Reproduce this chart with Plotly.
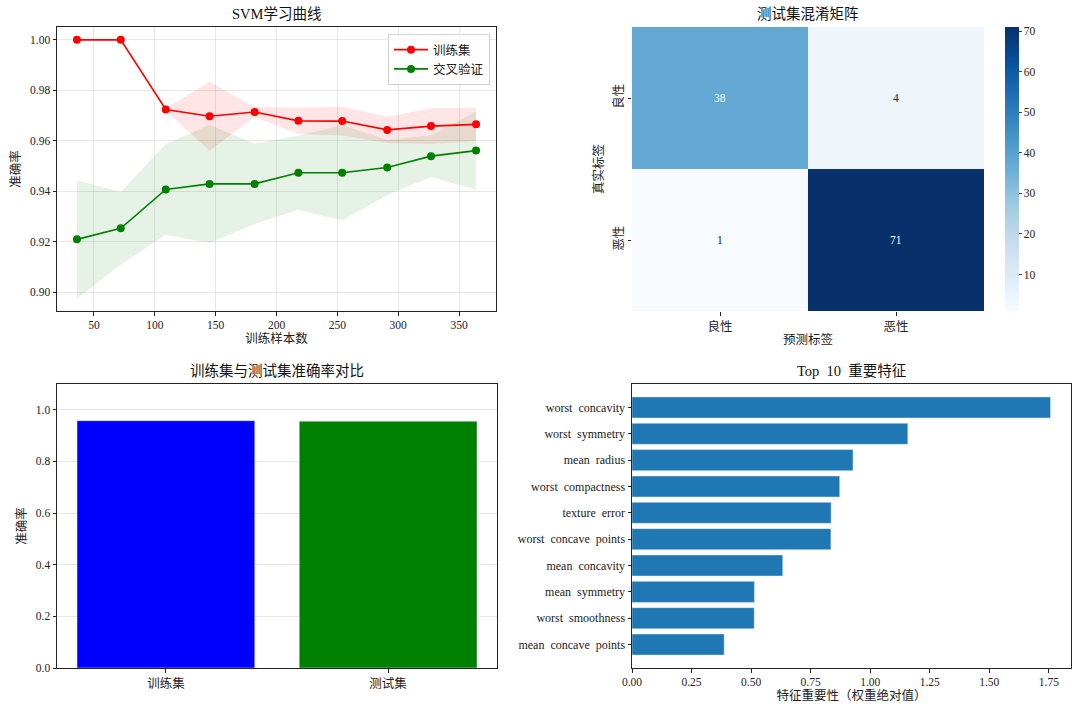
"""SVM 乳腺癌分类结果 — 学习曲线 / 混淆矩阵 / 准确率对比 / 特征重要性"""

import plotly.graph_objects as go

# 学习曲线数据
train_sizes = [36, 72, 109, 145, 182, 218, 254, 291, 327, 364]
train_mean = [1.000, 1.000, 0.9724, 0.9697, 0.9714, 0.9679, 0.9678, 0.9643, 0.9658, 0.9665]
train_std = [0.0, 0.0, 0.0005, 0.0137, 0.0020, 0.0052, 0.0057, 0.0052, 0.0071, 0.0066]
cv_mean = [0.9209, 0.9253, 0.9407, 0.9429, 0.9429, 0.9473, 0.9473, 0.9494, 0.9539, 0.9561]
cv_std = [0.0234, 0.0144, 0.0180, 0.0234, 0.0159, 0.0147, 0.0189, 0.0109, 0.0083, 0.0155]

# 混淆矩阵
cm_labels = ['良性', '恶性']
cm_values = [[38, 4], [1, 71]]

# 准确率对比
acc_names = ['训练集', '测试集']
acc_values = [0.958, 0.956]

# 特征重要性 (从大到小)
feat_names = ['worst concavity', 'worst symmetry', 'mean radius', 'worst compactness',
              'texture error', 'worst concave points', 'mean concavity', 'mean symmetry',
              'worst smoothness', 'mean concave points']
feat_values = [1.757, 1.158, 0.928, 0.872, 0.836, 0.835, 0.633, 0.514, 0.513, 0.387]

W, H = 1080, 715
FONT = 'Liberation Serif, Noto Sans CJK SC, serif'
BLUES = [[0.0, 'rgb(247,251,255)'], [0.125, 'rgb(222,235,247)'], [0.25, 'rgb(198,219,239)'],
         [0.375, 'rgb(158,202,225)'], [0.5, 'rgb(107,174,214)'], [0.625, 'rgb(66,146,198)'],
         [0.75, 'rgb(33,113,181)'], [0.875, 'rgb(8,81,156)'], [1.0, 'rgb(8,48,107)']]
GRID = 'rgba(176,176,176,0.3)'


def px_x(a, b):
    return [a / W, b / W]


def px_y(top, bottom):
    return [1 - bottom / H, 1 - top / H]


D_TL = (px_x(57, 496), px_y(27, 311))
D_TR = (px_x(632, 984), px_y(27, 311))
D_BL = (px_x(57, 497), px_y(384, 668))
D_BR = (px_x(632, 1071), px_y(384, 668))

fig = go.Figure()

# ---- 学习曲线 ----
sp = '\u00a0'
tr_up = [m + s for m, s in zip(train_mean, train_std)]
tr_lo = [m - s for m, s in zip(train_mean, train_std)]
cv_up = [m + s for m, s in zip(cv_mean, cv_std)]
cv_lo = [m - s for m, s in zip(cv_mean, cv_std)]

fig.add_trace(go.Scatter(x=train_sizes, y=tr_up, mode='lines', line=dict(width=0),
                         showlegend=False, hoverinfo='skip', xaxis='x', yaxis='y'))
fig.add_trace(go.Scatter(x=train_sizes, y=tr_lo, mode='lines', line=dict(width=0),
                         fill='tonexty', fillcolor='rgba(255,0,0,0.1)',
                         showlegend=False, hoverinfo='skip', xaxis='x', yaxis='y'))
fig.add_trace(go.Scatter(x=train_sizes, y=cv_up, mode='lines', line=dict(width=0),
                         showlegend=False, hoverinfo='skip', xaxis='x', yaxis='y'))
fig.add_trace(go.Scatter(x=train_sizes, y=cv_lo, mode='lines', line=dict(width=0),
                         fill='tonexty', fillcolor='rgba(0,128,0,0.1)',
                         showlegend=False, hoverinfo='skip', xaxis='x', yaxis='y'))
fig.add_trace(go.Scatter(x=train_sizes, y=train_mean, mode='lines+markers', name='训练集',
                         line=dict(color='#ff0000', width=1.6),
                         marker=dict(color='#ff0000', size=8), xaxis='x', yaxis='y'))
fig.add_trace(go.Scatter(x=train_sizes, y=cv_mean, mode='lines+markers', name='交叉验证',
                         line=dict(color='#008000', width=1.6),
                         marker=dict(color='#008000', size=8), xaxis='x', yaxis='y'))

# ---- 混淆矩阵 ----
fig.add_trace(go.Heatmap(
    z=cm_values, x=cm_labels, y=cm_labels, colorscale=BLUES, zmin=1, zmax=71,
    xgap=0, ygap=0, showscale=True, xaxis='x2', yaxis='y2',
    colorbar=dict(x=1005 / W, xanchor='left', y=D_TR[1][1], yanchor='top',
                  len=D_TR[1][1] - D_TR[1][0], lenmode='fraction',
                  thickness=14, thicknessmode='pixels', outlinewidth=0,
                  tickvals=[10, 20, 30, 40, 50, 60, 70], ticks='outside', ticklen=3,
                  tickfont=dict(size=11.5, color='#222'), xpad=0, ypad=0),
))

annotations = []
vmax = max(max(r) for r in cm_values)
for i, row in enumerate(cm_values):
    for j, v in enumerate(row):
        annotations.append(dict(
            x=cm_labels[j], y=cm_labels[i], xref='x2', yref='y2', text=str(v),
            showarrow=False,
            font=dict(size=11.5, color='white' if v > vmax / 2 else '#262626'),
        ))

# ---- 准确率对比 ----
fig.add_trace(go.Bar(x=acc_names, y=acc_values, marker_color=['#0000ff', '#008000'],
                     width=0.8, showlegend=False, xaxis='x3', yaxis='y3'))

# ---- 特征重要性 ----
fig.add_trace(go.Bar(x=feat_values, y=[n.replace(' ', ' ' + sp) for n in feat_names],
                     orientation='h', marker_color='#1f77b4', width=0.8,
                     showlegend=False, xaxis='x4', yaxis='y4'))

# ---- 标题 ----
titles = [
    ('SVM学习曲线', D_TL),
    ('测试集混淆矩阵', D_TR),
    ('训练集与测试集准确率对比', D_BL),
    ('Top' + sp + ' 10' + sp + ' 重要特征', D_BR),
]
for text, (dx, dy) in titles:
    annotations.append(dict(
        x=(dx[0] + dx[1]) / 2, y=dy[1] + 4 / H, xref='paper', yref='paper',
        xanchor='center', yanchor='bottom', text=text, showarrow=False, borderpad=0,
        font=dict(size=14.5, color='#111'),
    ))

frame = dict(showline=True, linecolor='#222', linewidth=1, mirror=True,
             ticks='outside', ticklen=3.5, tickcolor='#222', tickwidth=0.8,
             tickfont=dict(size=11.5, color='#222'), zeroline=False, automargin=False)
frame_nf = {k: v for k, v in frame.items() if k != 'tickfont'}

fig.update_layout(
    width=W, height=H,
    margin=dict(l=0, r=0, t=0, b=0, autoexpand=False),
    plot_bgcolor='white', paper_bgcolor='white',
    font=dict(family=FONT, size=12, color='#222'),
    annotations=annotations,
    legend=dict(x=D_TL[0][1] - 6 / W, xanchor='right', y=D_TL[1][1] - 7 / H, yanchor='top',
                bgcolor='rgba(255,255,255,0.8)', bordercolor='#d0d0d0', borderwidth=1,
                font=dict(size=12.5), traceorder='normal', tracegroupgap=0, itemwidth=34),
    xaxis=dict(domain=D_TL[0], range=[19.6, 380.4], tickvals=[50, 100, 150, 200, 250, 300, 350],
               showgrid=True, gridcolor=GRID, anchor='y',
               title=dict(text='训练样本数', font=dict(size=12.5), standoff=3), **frame),
    yaxis=dict(domain=D_TL[1], range=[0.8925, 1.0051],
               tickvals=[0.90, 0.92, 0.94, 0.96, 0.98, 1.00], tickformat='.2f',
               showgrid=True, gridcolor=GRID, anchor='x',
               title=dict(text='准确率', font=dict(size=12.5), standoff=6), **frame),
    xaxis2=dict(domain=D_TR[0], anchor='y2', showline=False, ticks='outside', ticklen=3.5,
                tickcolor='#222', tickfont=dict(size=12.5, color='#222'), showgrid=False,
                zeroline=False, automargin=False,
                title=dict(text='预测标签', font=dict(size=12.5), standoff=2)),
    yaxis2=dict(domain=D_TR[1], anchor='x2', autorange='reversed', showline=False,
                ticks='outside', ticklen=3.5, tickcolor='#222', tickangle=-90,
                tickfont=dict(size=12.5, color='#222'), showgrid=False, zeroline=False,
                automargin=False,
                title=dict(text='真实标签', font=dict(size=12.5), standoff=4)),
    xaxis3=dict(domain=D_BL[0], anchor='y3', range=[-0.49, 1.49], showgrid=False,
                tickfont=dict(size=12.5, color='#222'), **frame_nf),
    yaxis3=dict(domain=D_BL[1], anchor='x3', range=[0, 1.1],
                tickvals=[0.0, 0.2, 0.4, 0.6, 0.8, 1.0], tickformat='.1f',
                showgrid=True, gridcolor=GRID,
                title=dict(text='准确率', font=dict(size=12.5), standoff=6), **frame),
    xaxis4=dict(domain=D_BR[0], anchor='y4', range=[0, 1.843],
                tickvals=[0, 0.25, 0.5, 0.75, 1.0, 1.25, 1.5, 1.75], tickformat='.2f',
                showgrid=False,
                title=dict(text='特征重要性（权重绝对值）', font=dict(size=12.5), standoff=3),
                **frame),
    yaxis4=dict(domain=D_BR[1], anchor='x4', range=[9.89, -0.89], showgrid=False,
                tickfont=dict(size=12, color='#222'), **frame_nf),
)

# 去掉页面默认边距，让图从左上角开始；隐藏工具栏
fig.write_html('out.html', config={'displayModeBar': False},
               post_script="document.body.style.margin = '0px';")
